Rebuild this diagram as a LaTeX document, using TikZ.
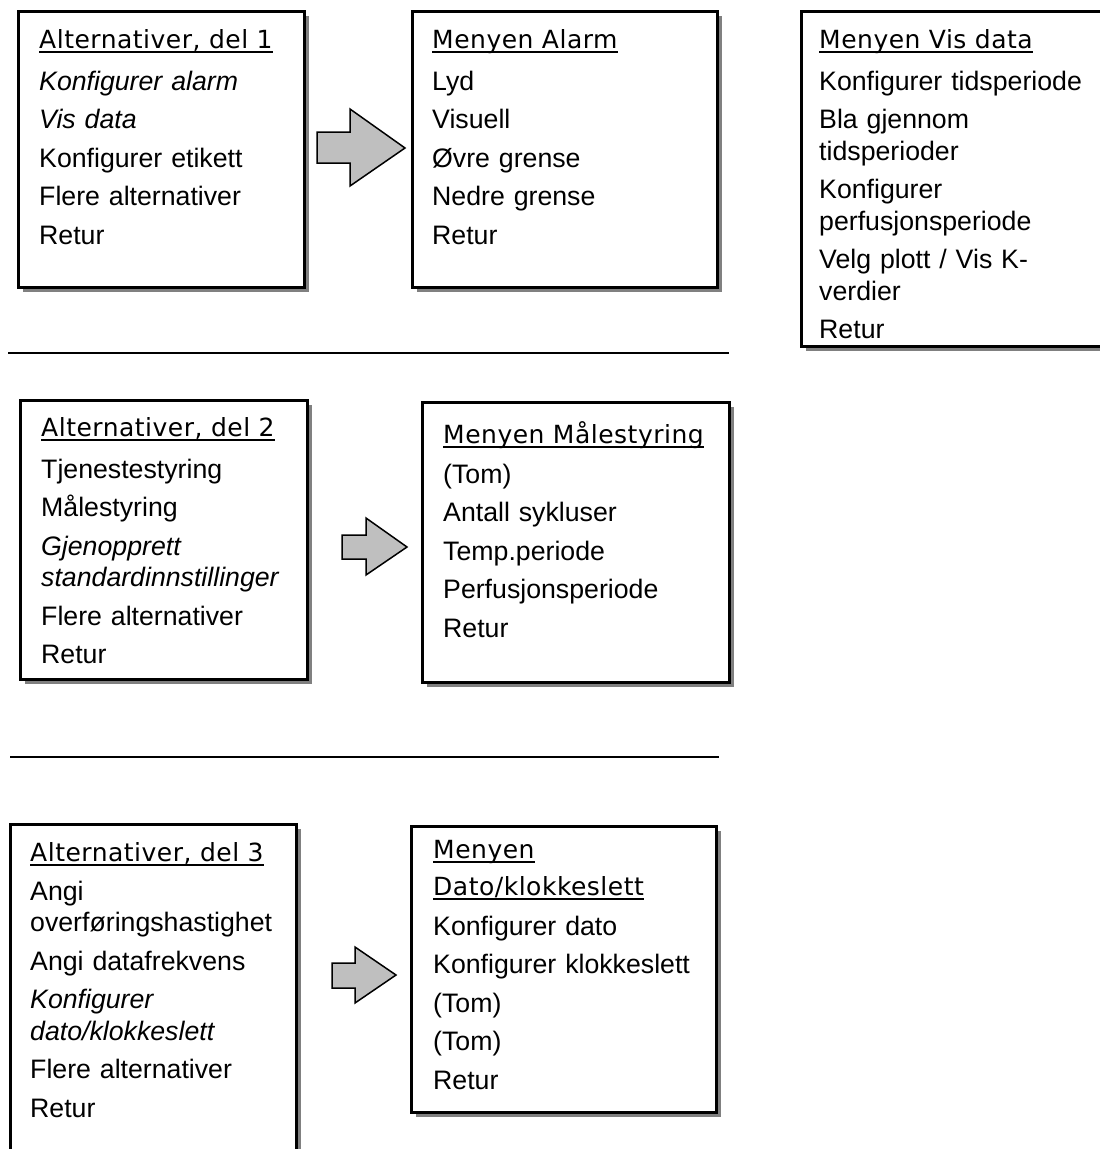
\documentclass[tikz,border=0pt]{standalone}
\usepackage{fontspec}
\setmainfont{Liberation Sans}
\newfontfamily\headfont[LetterSpace=2]{DejaVu Sans}
\usetikzlibrary{shadows,positioning}

\tikzset{
  menubox/.style={draw=black, line width=3pt, fill=white, anchor=north west,
    inner sep=0pt, outer sep=0pt,
    drop shadow={shadow xshift=5pt, shadow yshift=-5pt, fill=black!50, opacity=1}},
  menuhead/.style={font=\headfont\fontsize{25pt}{30pt}\selectfont, inner sep=0pt, anchor=base west},
  menulist/.style={font=\fontsize{26.7pt}{31.5pt}\selectfont, inner sep=0pt, anchor=base west,
    text width=330pt, align=left},
  uline/.style={line width=1.6pt},
  fatarrow/.style={draw=black, line width=1.5pt, fill=black!25, line join=miter},
  rule/.style={line width=2pt}
}

\begin{document}
\begin{tikzpicture}[x=1pt, y=-1pt]
\clip (0,0) rectangle (1100,1149);

% boxes
\node[menubox, minimum width=286pt, minimum height=276pt] (alt1) at (18,11) {};
\node[menubox, minimum width=305pt, minimum height=276pt] (alarm) at (412,11) {};
\node[menubox, minimum width=330pt, minimum height=335pt] (visdata) at (801,11) {};
\node[menubox, minimum width=287pt, minimum height=279pt] (alt2) at (20,400) {};
\node[menubox, minimum width=307pt, minimum height=280pt] (maale) at (422,402) {};
\node[menubox, minimum width=286pt, minimum height=360pt] (alt3) at (10,824) {};
\node[menubox, minimum width=305pt, minimum height=286pt] (dato) at (411,826) {};

% headers
\node[menuhead] (alt1h) at (39,48) {Alternativer, del 1};
\node[menuhead] (alarmh) at (432,48) {Menyen Alarm};
\node[menuhead] (visdatah) at (819,48) {Menyen Vis data};
\node[menuhead] (alt2h) at (41,436) {Alternativer, del 2};
\node[menuhead] (maaleh) at (443,443) {Menyen Målestyring};
\node[menuhead] (alt3h) at (30,861) {Alternativer, del 3};
\node[menuhead] (datoh) at (433,858) {Menyen};
\node[menuhead] (datohb) at ([yshift=-37pt]datoh.base west) {Dato/klokkeslett};
\foreach \h in {alt1h,alarmh,visdatah,alt2h,maaleh,alt3h,datoh,datohb}
  \draw[uline] ([yshift=-4pt]\h.base west) -- ([yshift=-4pt]\h.base east);

% menu items
\node[menulist] (alt1l) at ([yshift=-42pt]alt1h.base west)
  {\textit{Konfigurer alarm}\\[7pt] \textit{Vis data}\\[7pt] Konfigurer etikett\\[7pt]
   Flere alternativer\\[7pt] Retur};
\node[menulist] (alarml) at ([yshift=-42pt]alarmh.base west)
  {Lyd\\[7pt] Visuell\\[7pt] Øvre grense\\[7pt] Nedre grense\\[7pt] Retur};
\node[menulist] (visdatal) at ([yshift=-42pt]visdatah.base west)
  {Konfigurer tidsperiode\\[7pt] Bla gjennom\\ tidsperioder\\[7pt] Konfigurer\\
   perfusjonsperiode\\[7pt] Velg plott / Vis K-\\ verdier\\[7pt] Retur};
\node[menulist] (alt2l) at ([yshift=-42pt]alt2h.base west)
  {Tjenestestyring\\[7pt] Målestyring\\[7pt] \textit{Gjenopprett}\\
   \textit{standardinnstillinger}\\[7pt] Flere alternativer\\[7pt] Retur};
\node[menulist] (maalel) at ([yshift=-40pt]maaleh.base west)
  {(Tom)\\[7pt] Antall sykluser\\[7pt] Temp.periode\\[7pt] Perfusjonsperiode\\[7pt] Retur};
\node[menulist] (alt3l) at ([yshift=-39pt]alt3h.base west)
  {Angi\\ overføringshastighet\\[7pt] Angi datafrekvens\\[7pt] \textit{Konfigurer}\\
   \textit{dato/klokkeslett}\\[7pt] Flere alternativer\\[7pt] Retur};
\node[menulist] (datol) at ([yshift=-40pt]datohb.base west)
  {Konfigurer dato\\[7pt] Konfigurer klokkeslett\\[7pt] (Tom)\\[7pt] (Tom)\\[7pt] Retur};

% block arrows
\draw[fatarrow] (317,132) -- (350,132) -- (350,109) -- (405,148) -- (350,186)
  -- (350,163) -- (317,163) -- cycle;
\draw[fatarrow] (342,535) -- (366,535) -- (366,518) -- (407,547) -- (366,575)
  -- (366,559) -- (342,559) -- cycle;
\draw[fatarrow] (332,963) -- (355,963) -- (355,947) -- (396,975) -- (355,1003)
  -- (355,988) -- (332,988) -- cycle;

% separators
\draw[rule] (8,353) -- (729,353);
\draw[rule] (10,757) -- (719,757);
\end{tikzpicture}
\end{document}
